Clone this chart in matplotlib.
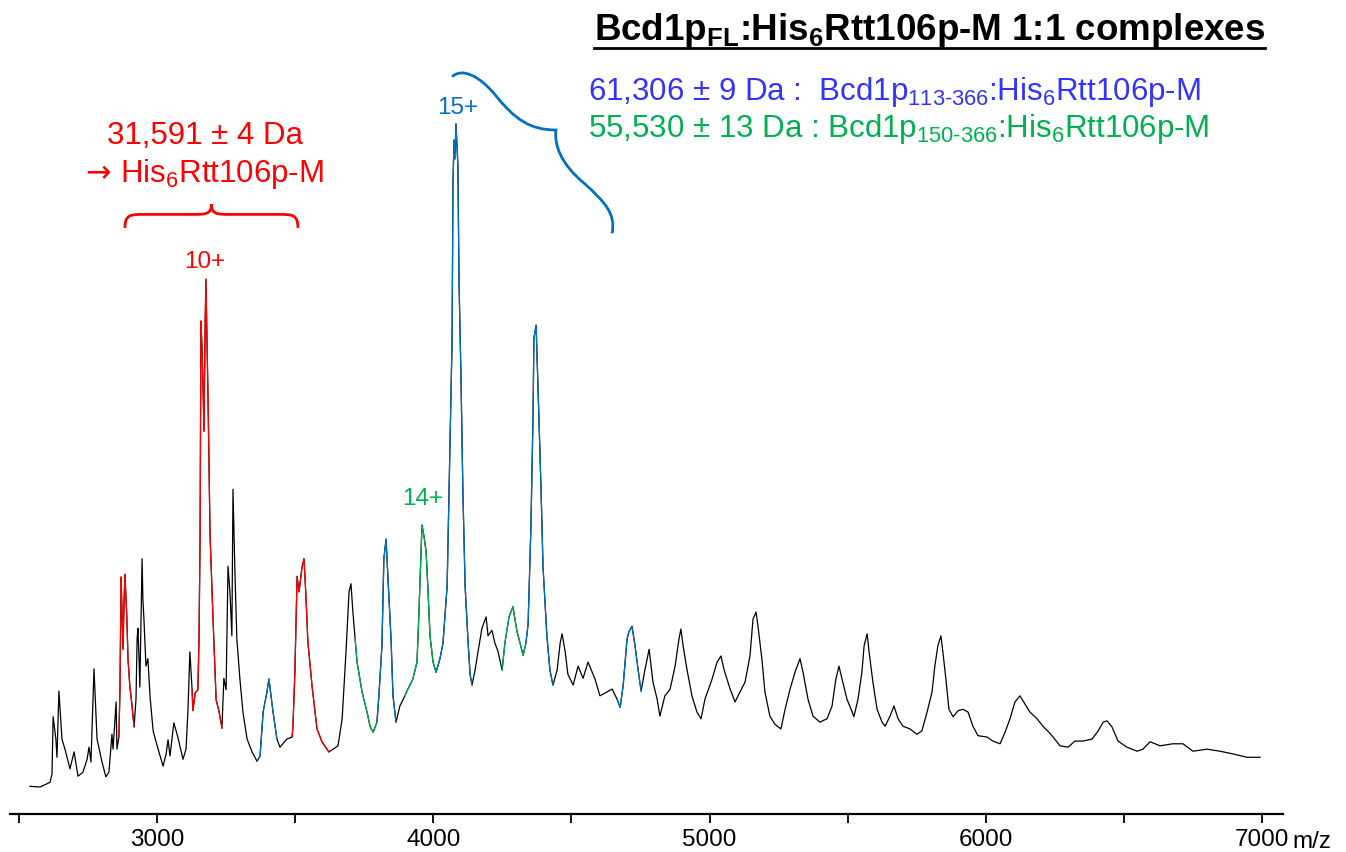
import numpy as np
import matplotlib
matplotlib.use("Agg")
import matplotlib.pyplot as plt
from matplotlib.path import Path
from matplotlib.patches import PathPatch
from matplotlib.ticker import MultipleLocator
from matplotlib.lines import Line2D

plt.rcParams['font.family'] = ['Liberation Sans', 'DejaVu Sans']
plt.rcParams['mathtext.fontset'] = 'custom'
plt.rcParams['mathtext.rm'] = 'Liberation Sans'
plt.rcParams['mathtext.bf'] = 'Liberation Sans:bold'

# spectrum trace, m/z vs relative intensity (%)
mz = np.array([
    2540, 2577, 2613, 2620, 2624, 2634, 2638, 2645, 2656, 2667, 2685, 2700, 2714, 2732,
    2747, 2754, 2761, 2772, 2783, 2801, 2815, 2826, 2837, 2841, 2852, 2855, 2862,
    2866, 2870, 2873, 2877, 2881, 2884, 2888, 2891, 2895, 2902, 2909, 2917,
    2924, 2928, 2931, 2935, 2938, 2946, 2949, 2953, 2960, 2967, 2975, 2986, 3004, 3022,
    3033, 3040, 3047, 3061, 3076, 3094, 3105, 3112, 3119, 3127,
    3130, 3138, 3148, 3152, 3156, 3159, 3163, 3166, 3170, 3174, 3177, 3181, 3185, 3192,
    3203, 3214, 3224, 3235,
    3242, 3250, 3257, 3264, 3271, 3275, 3282, 3289, 3300, 3311, 3326, 3344, 3362,
    3373, 3384, 3398, 3405, 3420, 3434,
    3445, 3470, 3489,
    3492, 3499, 3507, 3514, 3525, 3532, 3539, 3546, 3561, 3579, 3597, 3615, 3622,
    3637, 3655, 3670, 3684, 3695, 3702, 3709, 3717,
    3724, 3742, 3760, 3771, 3782, 3796,
    3803, 3814, 3821, 3829, 3836, 3847, 3854, 3865,
    3879, 3897,
    3908, 3926, 3941, 3948, 3959, 3966, 3974, 3981, 3988, 3999, 4010,
    4024, 4035, 4050, 4057, 4068, 4071, 4075, 4078, 4082, 4089, 4093, 4100, 4107, 4115,
    4126, 4133, 4140,
    4151, 4162, 4176, 4191, 4198, 4212, 4223, 4234, 4249,
    4259, 4274, 4288, 4303, 4314, 4325, 4335,
    4343, 4353, 4361, 4364, 4372, 4375, 4382, 4390, 4397, 4411, 4422, 4433,
    4448, 4459, 4466, 4477, 4487, 4506, 4524, 4542, 4560, 4585, 4603, 4629, 4647, 4665,
    4676, 4687, 4701, 4708, 4719, 4730, 4741, 4752,
    4766, 4781, 4795, 4810, 4820, 4838, 4857, 4875, 4889, 4896, 4904, 4918, 4936, 4954,
    4969, 4983, 5009, 5027, 5041, 5052, 5074, 5092, 5110, 5128, 5146, 5157, 5168, 5175,
    5189, 5200, 5218, 5236, 5258, 5273, 5291, 5309, 5327, 5338, 5356, 5374, 5399, 5425,
    5443, 5457, 5468, 5479, 5497, 5512, 5522, 5537, 5551, 5559, 5570, 5577, 5591, 5606,
    5624, 5635, 5653, 5667, 5682, 5700, 5725, 5750, 5768, 5787, 5805, 5815, 5826, 5837,
    5844, 5855, 5866, 5881, 5899, 5917, 5935, 5953, 5971, 6004, 6025, 6051, 6069, 6087,
    6105, 6123, 6141, 6159, 6185, 6206, 6228, 6243, 6268, 6297, 6322, 6351, 6384, 6406,
    6424, 6438, 6456, 6478, 6510, 6547, 6568, 6594, 6630, 6677, 6713, 6749, 6800, 6847,
    6894, 6945, 6992])
intensity = np.array([
    1.9, 1.8, 2.5, 3.7, 12.2, 8.9, 6.2, 16.0, 8.9, 7.4, 4.5, 7.0, 3.4, 4.0,
    5.9, 7.7, 5.5, 19.3, 8.9, 5.5, 3.3, 4.0, 9.6, 7.4, 14.4, 7.4, 9.2,
    16.3, 32.9, 28.2, 22.2, 29.6, 33.3, 29.6, 26.7, 20.8, 16.6, 14.1, 10.7,
    14.8, 23.7, 25.3, 20.8, 16.6, 35.6, 29.6, 26.4, 19.7, 20.8, 15.1, 10.1, 7.4, 4.9,
    6.7, 8.8, 6.4, 11.3, 9.1, 5.9, 7.4, 13.1, 21.8, 16.2,
    13.1, 15.7, 16.2, 23.7, 39.1, 70.8, 66.7, 62.1, 54.5, 69.6, 77.0, 67.7, 58.5, 39.1,
    26.4, 14.7, 13.1, 10.5,
    17.9, 16.2, 34.5, 30.7, 24.2, 45.9, 33.6, 23.7, 17.8, 12.9, 8.9, 7.0, 5.6,
    6.4, 12.9, 15.9, 17.8, 12.9, 8.9,
    7.7, 8.9, 9.2,
    10.8, 18.8, 33.0, 30.7, 34.4, 35.6, 30.1, 23.3, 16.8, 10.4, 8.5, 7.4, 7.0,
    7.4, 7.9, 11.9, 21.8, 30.7, 31.9, 27.7, 23.7,
    20.3, 15.9, 12.9, 10.8, 9.9, 11.4,
    15.3, 22.7, 35.6, 38.5, 32.6, 23.7, 15.3, 11.4,
    13.8, 15.3,
    16.3, 17.8, 20.3, 27.7, 40.6, 39.0, 36.6, 30.7, 24.2, 20.3, 18.8,
    20.8, 23.1, 31.6, 45.6, 68.3, 91.0, 97.6, 94.8, 100.0, 93.8, 76.7, 62.7, 45.6, 31.6,
    23.1, 18.5, 16.9,
    19.1, 21.9, 25.3, 27.0, 24.2, 25.0, 23.1, 21.9, 19.1,
    23.1, 27.0, 28.5, 24.8, 23.1, 21.3, 23.1,
    25.9, 40.0, 57.0, 68.3, 70.2, 66.1, 57.0, 45.6, 34.4, 24.2, 19.1, 16.9,
    19.1, 23.1, 24.5, 21.9, 18.5, 16.9, 19.7, 17.9, 20.3, 17.8, 15.3, 15.9, 16.3, 14.8,
    13.6, 16.8, 23.7, 24.8, 25.6, 22.7, 19.2, 16.0,
    19.2, 22.2, 17.3, 14.8, 12.3, 15.3, 16.3, 19.7, 23.7, 25.2, 22.7, 19.2, 15.3, 12.9,
    11.9, 14.8, 17.8, 20.3, 21.2, 19.2, 16.3, 14.4, 15.9, 17.3, 21.2, 26.7, 27.7, 25.6,
    20.8, 15.9, 12.3, 11.1, 10.4, 13.3, 16.3, 18.8, 20.8, 18.8, 14.8, 12.3, 11.4, 11.9,
    13.8, 17.8, 19.7, 17.8, 14.8, 13.3, 12.2, 14.8, 18.8, 22.7, 24.5, 21.8, 17.3, 13.3,
    11.4, 10.8, 12.3, 13.8, 11.9, 10.8, 10.4, 9.6, 10.1, 12.9, 15.9, 19.7, 22.7, 24.2,
    21.8, 17.8, 13.3, 12.2, 13.1, 13.3, 12.9, 10.8, 9.4, 9.2, 8.6, 8.2, 9.9, 11.9,
    14.4, 15.3, 14.1, 12.9, 11.9, 10.8, 9.9, 9.2, 7.9, 7.7, 8.6, 8.6, 8.9, 10.1,
    11.4, 11.6, 10.7, 8.6, 7.7, 7.1, 7.4, 8.5, 7.9, 8.2, 8.2, 7.1, 7.4, 7.1,
    6.7, 6.2, 6.2])

# m/z windows of the assigned charge-state series
red_ranges = [(2862, 2917), (3127, 3235), (3489, 3622)]
blue_ranges = [(3362, 3434), (3796, 3865), (4010, 4140), (4335, 4433), (4665, 4752)]
green_ranges = [(3717, 3796), (3897, 4010), (4249, 4335)]

RED = '#FF0000'
BLUE = '#0070C0'
GREEN = '#00B050'
VIOLET = '#3333FF'


def curly_brace(ax, x0, x1, y_end, y_flat, y_tip, q, color):
    xm = (x0 + x1) / 2.0
    verts = [(x0, y_end), (x0, y_flat), (x0 + 0.3 * q, y_flat), (x0 + q, y_flat),
             (xm - q, y_flat),
             (xm - 0.3 * q, y_flat), (xm, y_flat), (xm, y_tip),
             (xm, y_flat), (xm + 0.3 * q, y_flat), (xm + q, y_flat),
             (x1 - q, y_flat),
             (x1 - 0.3 * q, y_flat), (x1, y_flat), (x1, y_end)]
    codes = [Path.MOVETO, Path.CURVE4, Path.CURVE4, Path.CURVE4, Path.LINETO,
             Path.CURVE4, Path.CURVE4, Path.CURVE4, Path.CURVE4, Path.CURVE4, Path.CURVE4,
             Path.LINETO, Path.CURVE4, Path.CURVE4, Path.CURVE4]
    ax.add_patch(PathPatch(Path(verts, codes), fill=False, edgecolor=color,
                           lw=2.0, clip_on=False))


fig = plt.figure(figsize=(13.46, 8.53), dpi=100)
ax = fig.add_axes([10 / 1346, 38 / 853, 1273 / 1346, 815 / 853])

ax.plot(mz, intensity, color='black', lw=0.9)
for ranges, col in [(red_ranges, RED), (blue_ranges, BLUE), (green_ranges, GREEN)]:
    for lo, hi in ranges:
        m = (mz >= lo) & (mz <= hi)
        ax.plot(mz[m], intensity[m], color=col, lw=0.9)

ax.set_xlim(2468, 7075)
ax.set_ylim(-2.2, 118.5)
for s in ['left', 'right', 'top']:
    ax.spines[s].set_visible(False)
ax.spines['bottom'].set_linewidth(1.6)
ax.set_yticks([])
ax.xaxis.set_major_locator(MultipleLocator(1000))
ax.xaxis.set_minor_locator(MultipleLocator(500))
ax.tick_params(axis='x', which='both', direction='out', length=6.5, width=1.3)
ax.tick_params(axis='x', which='major', labelsize=17.5, pad=3.5)
ax.text(7108, -0.0405, 'm/z', transform=ax.get_xaxis_transform(),
        ha='left', va='baseline', fontsize=17.5)

# red 10+ series
ax.text(3174, 97.2, '31,591 ± 4 Da', color=RED, fontsize=22.5, ha='center', va='baseline')
ax.text(2834, 91.5, '→', color=RED, fontsize=22, family='DejaVu Sans',
        ha='right', va='baseline')
ax.text(2866, 91.5, r'His$_\mathrm{6}$Rtt106p-M', color=RED, fontsize=22.5,
        ha='left', va='baseline')
curly_brace(ax, 2884, 3510, 84.6, 86.6, 88.1, 70, RED)
ax.text(3174, 78.8, '10+', color=RED, fontsize=17.5, ha='center', va='baseline')

# blue 15+ and green 14+
ax.text(4089, 101.6, '15+', color=BLUE, fontsize=17.5, ha='center', va='baseline')
ax.text(3963, 43.7, '14+', color=GREEN, fontsize=17.5, ha='center', va='baseline')

verts = [(4068, 107.0), (4104, 108.3), (4165, 107.3), (4230, 104.0),
         (4296, 100.7), (4350, 99.1), (4444, 99.1),
         (4437, 97.0), (4459, 94.1), (4549, 91.1),
         (4621, 88.4), (4661, 86.7), (4647, 83.8)]
codes = [Path.MOVETO] + [Path.CURVE4] * 12
ax.add_patch(PathPatch(Path(verts, codes), fill=False, edgecolor=BLUE, lw=2.0, clip_on=False))

ax.text(4560, 103.7, r'61,306 ± 9 Da :  Bcd1p$_\mathrm{113‐366}$:His$_\mathrm{6}$Rtt106p-M',
        color=VIOLET, fontsize=22.5, ha='left', va='baseline')
ax.text(4560, 98.2, r'55,530 ± 13 Da : Bcd1p$_\mathrm{150‐366}$:His$_\mathrm{6}$Rtt106p-M',
        color=GREEN, fontsize=22.5, ha='left', va='baseline')

title = ax.text(4581, 112.6,
                r'Bcd1p$_\mathbf{FL}$:His$_\mathbf{6}$Rtt106p-M 1:1 complexes',
                color='black', fontsize=26.5, fontweight='bold', ha='left', va='baseline')

fig.canvas.draw()
bb = title.get_window_extent()
uy = bb.y0 + 1.0
fig.add_artist(Line2D([bb.x0 / fig.bbox.width, bb.x1 / fig.bbox.width],
                      [uy / fig.bbox.height, uy / fig.bbox.height],
                      transform=fig.transFigure, color='black', lw=2.0))

fig.savefig('out.png', dpi=100)
